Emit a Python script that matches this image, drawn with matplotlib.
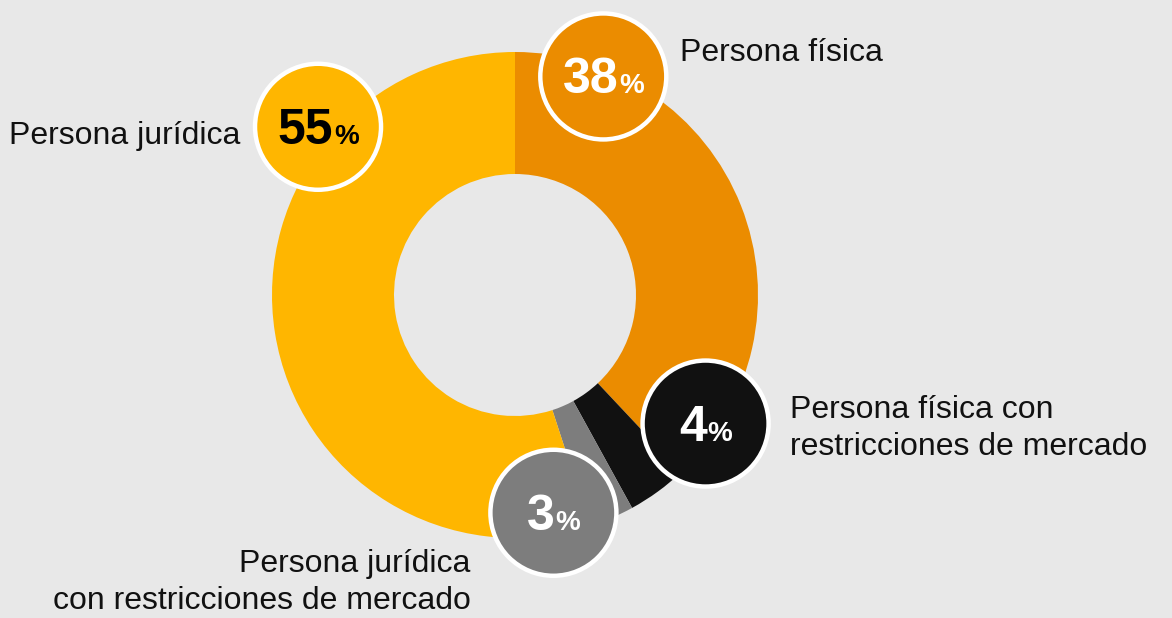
import numpy as np
import matplotlib.pyplot as plt
from matplotlib.patches import Circle

# data
labels = ["Persona física", "Persona física con\nrestricciones de mercado",
          "Persona jurídica\ncon restricciones de mercado", "Persona jurídica"]
values = [38, 4, 3, 55]
colors = ["#eb8c00", "#111111", "#7d7d7d", "#ffb600"]
num_colors = ["white", "white", "white", "black"]

# where the bubbles sit: angle clockwise from top (deg), distance from centre (x radius)
bubble_angle = [22, 124, 170, 310.5]
bubble_dist = [0.97, 0.946, 0.91, 1.066]

# label placement, pixels relative to the bubble centre
label_offset = [(77, 23), (84, -5), (-83, -70), (-78, -9)]
label_ha = ["left", "left", "right", "right"]

plt.rcParams['font.family'] = ['Liberation Sans', 'DejaVu Sans']

W, H = 1172, 618
cx, cy, R = 515, 295, 243.0
px = 1 / R  # one pixel in data units

fig = plt.figure(figsize=(W / 100, H / 100), dpi=100)
fig.patch.set_facecolor("#e8e8e8")
ax = fig.add_axes([0, 0, 1, 1])
ax.set_facecolor("#e8e8e8")

ax.pie(values, colors=colors, startangle=90, counterclock=False, radius=1,
       wedgeprops=dict(width=(243 - 121) / 243, linewidth=0))

ax.set_xlim(-cx / R, (W - cx) / R)
ax.set_ylim(-(H - cy) / R, cy / R)
ax.set_aspect("equal")
ax.axis("off")

for v, a, d, col, nc, lab, off, ha in zip(values, bubble_angle, bubble_dist, colors,
                                           num_colors, labels, label_offset, label_ha):
    t = np.radians(a)
    bx, by = d * np.sin(t), d * np.cos(t)
    ax.add_patch(Circle((bx, by), 63 * px, facecolor=col, edgecolor="white",
                        linewidth=3.2, zorder=5))
    num = str(v)
    w_num = 28 * len(num)
    w_pct = 26
    edge = bx + (w_num + w_pct) / 2 * px - w_pct * px
    base = by - 17 * px
    ax.text(edge, base, num, ha="right", va="baseline", fontsize=36,
            fontweight="bold", color=nc, zorder=6)
    ax.text(edge + 1 * px, base, "%", ha="left", va="baseline", fontsize=20,
            fontweight="bold", color=nc, zorder=6)
    ax.text(bx + off[0] * px, by + off[1] * px, lab, ha=ha, va="center",
            multialignment=ha, fontsize=23, color="#111111", linespacing=1.32,
            zorder=6)

plt.savefig("out.png", dpi=100, facecolor=fig.get_facecolor())
